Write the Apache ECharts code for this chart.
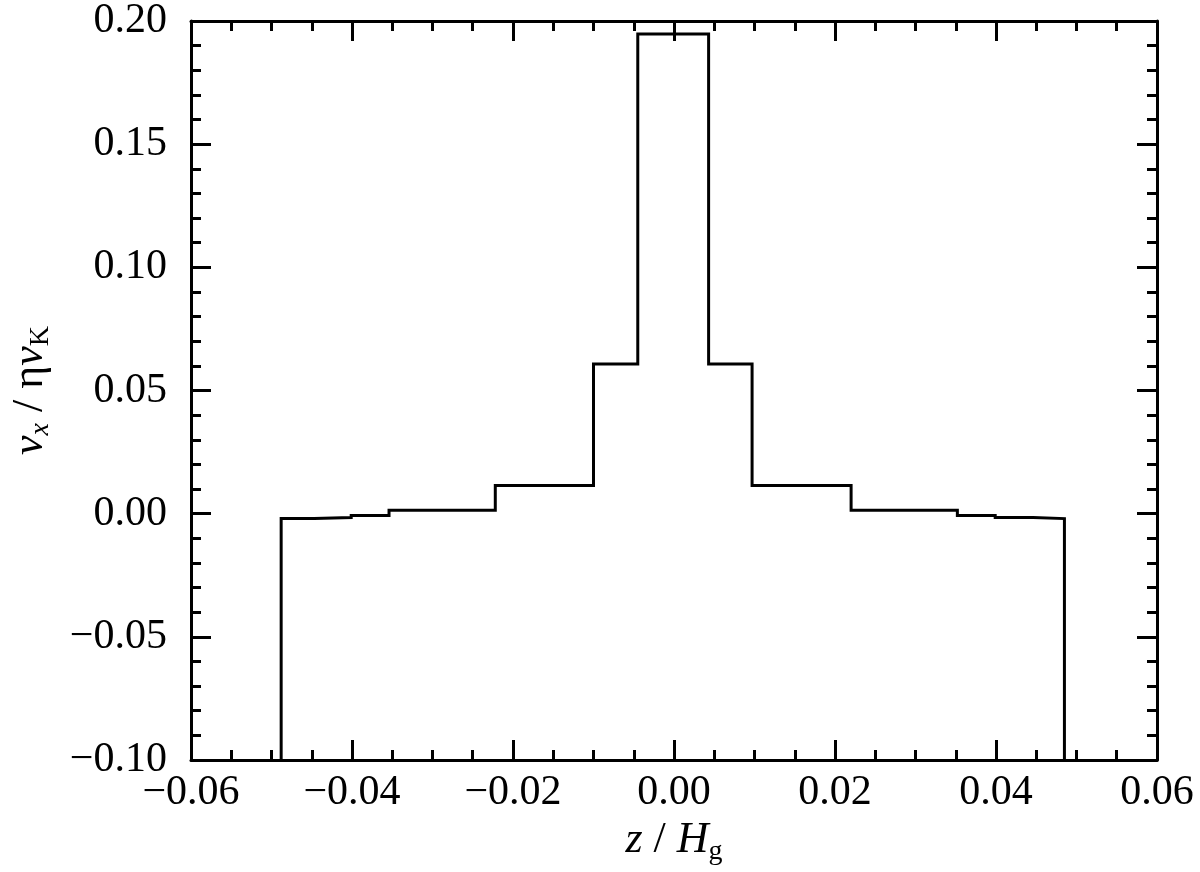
<!DOCTYPE html>
<html>
<head>
<meta charset="utf-8">
<script src="https://cdn.jsdelivr.net/npm/echarts@6/dist/echarts.min.js"></script>
<style>html,body{margin:0;padding:0;background:#fff}#c{width:1200px;height:872px}</style>
</head>
<body>
<div id="c"></div>
<script>
// bin edges in z / H_g
const binEdges = [-0.0488, -0.0447, -0.0401, -0.0354, -0.0222, -0.0100, -0.0045, 0.0043, 0.0097, 0.0220, 0.0352, 0.0399, 0.0446, 0.0485];
// v_x / eta v_K in each bin
const binValues = [-0.0020, -0.0016, -0.0007, 0.0014, 0.0114, 0.0608, 0.1947, 0.0608, 0.0114, 0.0014, -0.0007, -0.0016, -0.0020];
// the curve drops to the lower edge at both ends
const edgeLow = -0.10;
const xTicks = [-0.06, -0.04, -0.02, 0.00, 0.02, 0.04, 0.06];
const yTicks = [-0.10, -0.05, 0.00, 0.05, 0.10, 0.15, 0.20];

const pts = [[binEdges[0], edgeLow]];
for (let i = 0; i < binValues.length; i++) {
  pts.push([binEdges[i], binValues[i]]);
  pts.push([binEdges[i + 1], binValues[i]]);
}
pts.push([binEdges[binEdges.length - 1], edgeLow]);

const FONT = 'Liberation Serif';
const fmt = v => v.toFixed(2).replace('-', '\u2212');
const black = '#000';

function xAx(pos, show) {
  return {
    type: 'value', position: pos,
    min: xTicks[0], max: xTicks[xTicks.length - 1], interval: 0.02,
    axisLine: { show: true, onZero: false, lineStyle: { color: black, width: 3 } },
    axisTick: { show: true, inside: true, length: 20, lineStyle: { color: black, width: 3 } },
    minorTick: { show: true, splitNumber: 4, length: 10, lineStyle: { color: black, width: 3 } },
    splitLine: { show: false }, minorSplitLine: { show: false },
    axisLabel: { show: show, formatter: fmt, fontFamily: FONT, fontSize: 42, color: black, margin: 12 }
  };
}
function yAx(pos, show) {
  return {
    type: 'value', position: pos,
    min: yTicks[0], max: yTicks[yTicks.length - 1], interval: 0.05,
    axisLine: { show: true, onZero: false, lineStyle: { color: black, width: 3 } },
    axisTick: { show: true, inside: true, length: 20, lineStyle: { color: black, width: 3 } },
    minorTick: { show: true, splitNumber: 5, length: 10, lineStyle: { color: black, width: 3 } },
    splitLine: { show: false }, minorSplitLine: { show: false },
    axisLabel: { show: show, formatter: fmt, fontFamily: FONT, fontSize: 42, color: black, margin: 24 }
  };
}

const xb = xAx('bottom', true);
xb.name = '{it|z} / {it|H}{sub|g}';
xb.nameLocation = 'middle';
xb.nameGap = 52;
xb.nameTextStyle = {
  fontFamily: FONT, fontSize: 44, color: black,
  rich: {
    it: { fontFamily: FONT, fontStyle: 'italic', fontSize: 44, color: black },
    sub: { fontFamily: FONT, fontSize: 28, color: black, padding: [22, 0, 0, 0] }
  }
};
const yl = yAx('left', true);
yl.name = '{it|v}{subi|x} / \u03b7{it|v}{sub|K}';
yl.nameLocation = 'middle';
yl.nameGap = 136;
yl.nameTextStyle = {
  fontFamily: FONT, fontSize: 44, color: black,
  rich: {
    it: { fontFamily: FONT, fontStyle: 'italic', fontSize: 44, color: black },
    subi: { fontFamily: FONT, fontStyle: 'italic', fontSize: 28, color: black, padding: [22, 0, 0, 0] },
    sub: { fontFamily: FONT, fontSize: 28, color: black, padding: [22, 0, 0, 0] }
  }
};

const chart = echarts.init(document.getElementById('c'), null, { renderer: 'canvas' });
chart.setOption({
  animation: false,
  backgroundColor: '#fff',
  grid: { left: 190, right: 43, top: 15, bottom: 112, containLabel: false },
  xAxis: [xb, xAx('top', false)],
  yAxis: [yl, yAx('right', false)],
  series: [{
    type: 'line', data: pts, xAxisIndex: 0, yAxisIndex: 0,
    showSymbol: false, symbol: 'none', clip: true,
    lineStyle: { color: black, width: 3, join: 'miter' }
  }]
});
</script>
</body>
</html>
